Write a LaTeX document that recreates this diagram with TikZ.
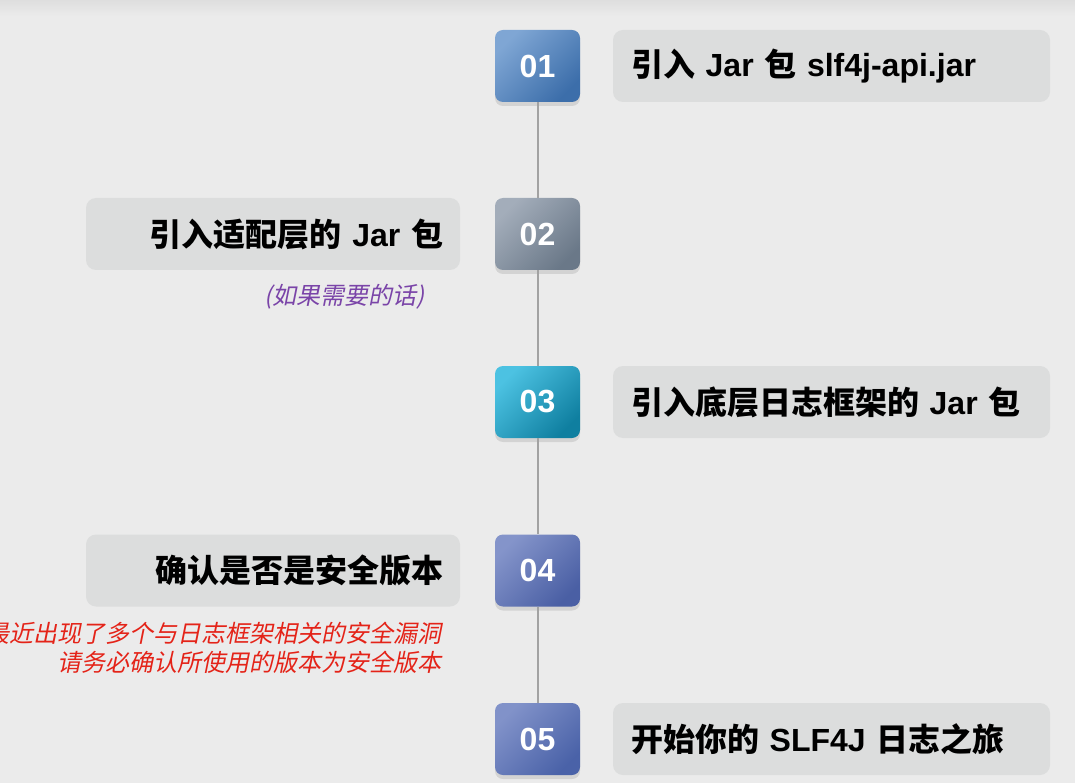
\documentclass[tikz,border=0pt]{standalone}
\usepackage{fontspec}
\setmainfont{Liberation Sans}
\newfontfamily\cjk{Noto Sans CJK SC}
\newfontfamily\latb{Liberation Sans}
\newfontfamily\cjkit[FakeSlant=0.2]{Noto Sans CJK SC}
\newcommand\lt[1]{{\latb\bfseries #1}}
\usetikzlibrary{shadows}
\definecolor{bg}{HTML}{EBEBEB}
\definecolor{bgtop}{HTML}{DEDEDE}
\definecolor{boxgray}{HTML}{DCDDDD}
\definecolor{linegray}{HTML}{A2A2A2}
\definecolor{aL}{HTML}{7FA6D4}\definecolor{aD}{HTML}{3C6EAA}
\definecolor{bL}{HTML}{A3ADBA}\definecolor{bD}{HTML}{6A7888}
\definecolor{cL}{HTML}{4CC2E2}\definecolor{cD}{HTML}{0F7FA0}
\definecolor{dL}{HTML}{8494CA}\definecolor{dD}{HTML}{4A5FA4}
\definecolor{eL}{HTML}{8192C9}\definecolor{eD}{HTML}{4A62A8}
\definecolor{purp}{HTML}{7A44A8}
\definecolor{redt}{HTML}{E42318}
\begin{document}
\begin{tikzpicture}[x=1pt,y=-1pt,
  numbox/.style n args={2}{rounded corners=8pt, minimum width=85pt, minimum height=72pt,
    inner sep=0pt, text=white, font=\fontsize{32}{32}\selectfont\bfseries,
    drop shadow={shadow xshift=0pt,shadow yshift=-4pt,opacity=0.10,fill=black},
    top color=#1, bottom color=#2, shading angle=45},
  rbox/.style={fill=boxgray, rounded corners=10pt, minimum width=437pt, minimum height=72pt,
    inner sep=0pt, text width=401pt, align=left, font=\cjk\bfseries\fontsize{32}{32}\selectfont},
  lbox/.style={fill=boxgray, rounded corners=10pt, minimum width=374pt, minimum height=72pt,
    inner sep=0pt, text width=340pt, align=right, font=\cjk\bfseries\fontsize{32}{32}\selectfont},
  note/.style={inner sep=0pt, anchor=east, font=\cjkit\fontsize{24}{24}\selectfont},
  link/.style={draw=linegray, line width=2pt}]
\useasboundingbox (0,0) rectangle (1075,783);
\fill[bg] (0,0) rectangle (1075,783);
\shade[top color=bgtop, bottom color=bg] (0,0) rectangle (1075,16);

% number boxes
\node[numbox={aL}{aD}] (n1) at (537.5,66) {01};
\node[numbox={bL}{bD}] (n2) at (537.5,234) {02};
\node[numbox={cL}{cD}] (n3) at (537.5,402) {03};
\node[numbox={dL}{dD}] (n4) at (537.5,570.5) {04};
\node[numbox={eL}{eD}] (n5) at (537.5,739) {05};

% connectors
\draw[link] (n1.south) -- (n2.north);
\draw[link] (n2.south) -- (n3.north);
\draw[link] (n3.south) -- (n4.north);
\draw[link] (n4.south) -- (n5.north);

% text boxes
\node[rbox] (t1) at (831.5,66) {引入 \lt{Jar} 包 \lt{slf4j-api.jar}};
\node[lbox] (t2) at (273,234) {引入适配层的 \lt{Jar} 包};
\node[rbox] (t3) at (831.5,402) {引入底层日志框架的 \lt{Jar} 包};
\node[lbox] (t4) at (273,570.5) {确认是否是安全版本};
\node[rbox] (t5) at (831.5,739) {开始你的 \lt{SLF4J} 日志之旅};

% notes
\node[note, text=purp] (p1) at (425,297) {(如果需要的话)};
\node[note, text=redt] (r1) at (442,633) {最近出现了多个与日志框架相关的安全漏洞};
\node[note, text=redt] (r2) at (442,662) {请务必确认所使用的版本为安全版本};
\end{tikzpicture}
\end{document}
